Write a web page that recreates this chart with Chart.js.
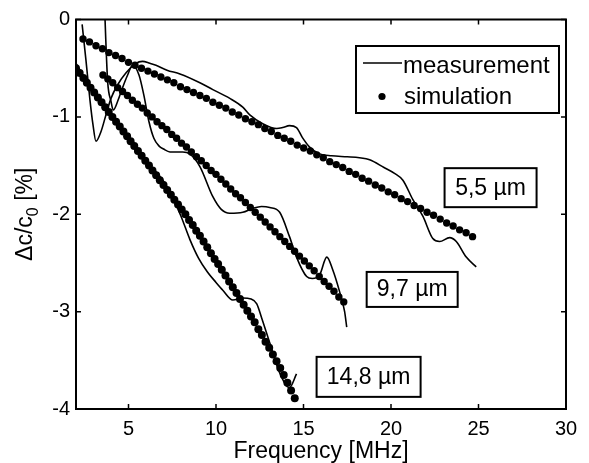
<!DOCTYPE html>
<html>
<head>
<meta charset="utf-8">
<script src="https://cdn.jsdelivr.net/npm/chart.js@4/dist/chart.umd.min.js"></script>
<style>
html,body{margin:0;padding:0;background:#fff;}
canvas{display:block;}
</style>
</head>
<body>
<canvas id="c" width="589" height="463"></canvas>
<script>
// ---------- data ----------
const xTicks = [5, 10, 15, 20, 25, 30];
const yTicks = [0, -1, -2, -3, -4];
const xTitle = "Frequency [MHz]";
const legendLabels = ["measurement", "simulation"];
const thicknessLabels = ["5,5 µm", "9,7 µm", "14,8 µm"];

// simulation 5,5 µm
const sim55X = [2.40,2.77,3.14,3.51,3.88,4.26,4.63,5.00,5.37,5.74,6.11,6.48,6.85,7.22,7.59,7.97,8.34,8.71,9.08,9.45,9.82,10.19,10.56,10.93,11.30,11.68,12.05,12.42,12.79,13.16,13.53,13.90,14.27,14.64,15.01,15.39,15.76,16.13,16.50,16.87,17.24,17.61,17.98,18.35,18.72,19.10,19.47,19.84,20.21,20.58,20.95,21.32,21.69,22.06,22.43,22.81,23.18,23.55,23.92,24.29,24.66];
const sim55Y = [-0.20,-0.23,-0.27,-0.30,-0.34,-0.37,-0.40,-0.44,-0.47,-0.50,-0.53,-0.56,-0.59,-0.62,-0.65,-0.69,-0.72,-0.75,-0.78,-0.81,-0.85,-0.88,-0.91,-0.95,-0.98,-1.02,-1.05,-1.08,-1.12,-1.15,-1.19,-1.22,-1.25,-1.29,-1.32,-1.35,-1.39,-1.42,-1.46,-1.49,-1.52,-1.56,-1.59,-1.63,-1.66,-1.70,-1.73,-1.77,-1.80,-1.84,-1.87,-1.91,-1.94,-1.98,-2.01,-2.05,-2.09,-2.12,-2.16,-2.19,-2.23];
// simulation 9,7 µm
const sim97X = [3.54,3.82,4.10,4.38,4.66,4.94,5.22,5.51,5.79,6.07,6.35,6.63,6.91,7.19,7.47,7.75,8.03,8.31,8.59,8.88,9.16,9.44,9.72,10.00,10.28,10.56,10.84,11.12,11.40,11.68,11.96,12.24,12.53,12.81,13.09,13.37,13.65,13.93,14.21,14.49,14.77,15.05,15.33,15.61,15.90,16.18,16.46,16.74,17.02,17.30];
const sim97Y = [-0.57,-0.61,-0.65,-0.70,-0.74,-0.78,-0.83,-0.87,-0.91,-0.96,-1.00,-1.05,-1.09,-1.13,-1.18,-1.22,-1.27,-1.31,-1.36,-1.41,-1.45,-1.50,-1.55,-1.59,-1.64,-1.69,-1.74,-1.79,-1.83,-1.88,-1.93,-1.98,-2.03,-2.08,-2.13,-2.18,-2.23,-2.28,-2.33,-2.38,-2.43,-2.48,-2.53,-2.58,-2.64,-2.69,-2.74,-2.79,-2.85,-2.90];
// simulation 14,8 µm
const sim148X = [2.00,2.21,2.42,2.62,2.83,3.04,3.25,3.46,3.67,3.87,4.08,4.29,4.50,4.71,4.92,5.12,5.33,5.54,5.75,5.96,6.17,6.37,6.58,6.79,7.00,7.21,7.42,7.62,7.83,8.04,8.25,8.46,8.67,8.87,9.08,9.29,9.50,9.71,9.92,10.12,10.33,10.54,10.75,10.96,11.17,11.37,11.58,11.79,12.00,12.21,12.42,12.62,12.83,13.04,13.25,13.46,13.67,13.87,14.08,14.29,14.50];
const sim148Y = [-0.50,-0.55,-0.60,-0.65,-0.70,-0.75,-0.80,-0.85,-0.90,-0.95,-1.00,-1.05,-1.10,-1.15,-1.20,-1.25,-1.30,-1.35,-1.40,-1.45,-1.50,-1.55,-1.60,-1.65,-1.70,-1.75,-1.80,-1.85,-1.90,-1.95,-2.00,-2.06,-2.11,-2.17,-2.22,-2.28,-2.34,-2.40,-2.46,-2.51,-2.57,-2.63,-2.69,-2.75,-2.81,-2.87,-2.93,-2.99,-3.05,-3.11,-3.18,-3.24,-3.31,-3.37,-3.44,-3.51,-3.58,-3.65,-3.73,-3.81,-3.89];

// measurement 5,5 µm
const meas55X = [2.35,2.57,2.80,2.97,3.14,3.43,3.71,4.00,4.38,4.85,5.42,5.80,6.22,6.57,7.20,7.94,9.08,9.82,10.79,11.53,11.93,12.67,13.47,13.81,14.20,14.60,14.93,15.35,15.92,16.60,17.50,18.20,18.78,19.60,20.20,20.68,21.25,21.82,22.39,22.78,23.35,23.73,24.30,24.87];
const meas55Y = [-0.05,-0.42,-0.83,-1.08,-1.25,-1.15,-0.98,-0.81,-0.67,-0.55,-0.45,-0.43,-0.45,-0.47,-0.52,-0.56,-0.65,-0.72,-0.81,-0.90,-0.98,-1.07,-1.12,-1.11,-1.09,-1.11,-1.21,-1.31,-1.38,-1.40,-1.41,-1.42,-1.44,-1.52,-1.58,-1.65,-1.85,-2.02,-2.25,-2.28,-2.24,-2.28,-2.44,-2.54];
// measurement 9,7 µm
const meas97X = [3.62,3.70,3.81,4.00,4.13,4.38,4.66,4.95,5.23,5.60,5.88,6.17,6.45,6.75,7.00,7.37,8.10,8.50,9.08,9.82,10.30,10.79,11.53,12.10,12.60,13.07,13.64,14.20,14.60,15.18,15.50,15.93,16.33,16.67,17.07,17.35,17.47];
const meas97Y = [0.20,-0.20,-0.64,-0.84,-0.93,-0.84,-0.70,-0.57,-0.47,-0.57,-0.78,-1.05,-1.22,-1.30,-1.33,-1.36,-1.36,-1.38,-1.51,-1.82,-1.95,-1.99,-1.98,-1.94,-1.92,-1.93,-1.98,-2.23,-2.44,-2.64,-2.66,-2.62,-2.44,-2.57,-2.80,-3.00,-3.16];
// measurement 14,8 µm
const meas148X = [2.00,2.50,3.00,3.50,4.00,4.50,5.00,5.50,6.00,6.50,7.00,7.50,8.00,8.51,9.00,9.50,10.00,10.39,10.96,11.53,12.00,12.33,12.60,13.07,13.64,14.20,14.60];
const meas148Y = [-0.45,-0.60,-0.72,-0.86,-0.98,-1.10,-1.22,-1.34,-1.45,-1.55,-1.66,-1.82,-2.02,-2.26,-2.45,-2.59,-2.70,-2.78,-2.88,-2.86,-2.87,-2.92,-3.06,-3.32,-3.63,-3.78,-3.64];

// ---------- chart ----------
const FONT = "'Liberation Sans', Arial, Helvetica, sans-serif";
const toXY = (xs, ys) => xs.map((x, i) => ({x: x, y: ys[i]}));

const measStyle = {
  showLine: true, pointRadius: 0, borderColor: '#000', borderWidth: 1.6,
  cubicInterpolationMode: 'monotone', fill: false
};
const simStyle = (r) => ({
  showLine: false, pointRadius: r, pointHoverRadius: r,
  pointBackgroundColor: '#000', pointBorderWidth: 0, borderColor: '#000'
});

// label boxes placed in data coordinates (centre), sizes in px
const thicknessAnchors = [
  {x: 25.69, y: -1.727, w: 92, h: 39},
  {x: 21.21, y: -2.772, w: 91, h: 35},
  {x: 18.72, y: -3.670, w: 104, h: 40}
];

const decor = {
  id: 'decor',
  afterDraw(chart) {
    const ctx = chart.ctx;
    const a = chart.chartArea;
    const xs = chart.scales.x, ys = chart.scales.y;
    ctx.save();
    ctx.strokeStyle = '#000';
    ctx.fillStyle = '#000';
    // frame
    ctx.lineWidth = 2;
    ctx.strokeRect(a.left, a.top, a.right - a.left, a.bottom - a.top);
    // inward ticks on all sides
    ctx.lineWidth = 1.5;
    const tl = 5;
    xTicks.forEach(v => {
      const px = xs.getPixelForValue(v);
      ctx.beginPath();
      ctx.moveTo(px, a.bottom); ctx.lineTo(px, a.bottom - tl);
      ctx.moveTo(px, a.top); ctx.lineTo(px, a.top + tl);
      ctx.stroke();
    });
    yTicks.forEach(v => {
      const py = ys.getPixelForValue(v);
      ctx.beginPath();
      ctx.moveTo(a.left, py); ctx.lineTo(a.left + tl, py);
      ctx.moveTo(a.right, py); ctx.lineTo(a.right - tl, py);
      ctx.stroke();
    });
    // y title with subscript
    const mainF = '23px ' + FONT, subF = '16px ' + FONT;
    const parts = [
      {t: 'Δc/c', f: mainF, dy: 0},
      {t: '0', f: subF, dy: 6},
      {t: ' [%]', f: mainF, dy: 0}
    ];
    let total = 0;
    parts.forEach(p => { ctx.font = p.f; p.w = ctx.measureText(p.t).width; total += p.w; });
    ctx.translate(32, (a.top + a.bottom) / 2);
    ctx.rotate(-Math.PI / 2);
    ctx.textBaseline = 'alphabetic';
    ctx.textAlign = 'left';
    let cx = -total / 2;
    parts.forEach(p => { ctx.font = p.f; ctx.fillText(p.t, cx, p.dy); cx += p.w; });
    ctx.setTransform(1, 0, 0, 1, 0, 0);
    // legend
    const lx = a.right - 7 - 203, ly = a.top + 26.5, lw = 203, lh = 67;
    ctx.fillStyle = '#fff';
    ctx.fillRect(lx, ly, lw, lh);
    ctx.fillStyle = '#000';
    ctx.lineWidth = 2;
    ctx.strokeRect(lx, ly, lw, lh);
    ctx.lineWidth = 1.6;
    ctx.beginPath();
    ctx.moveTo(lx + 7, ly + 17); ctx.lineTo(lx + 46, ly + 17);
    ctx.stroke();
    ctx.beginPath();
    ctx.arc(lx + 26, ly + 50.5, 3.6, 0, Math.PI * 2);
    ctx.fill();
    ctx.font = '24px ' + FONT;
    ctx.textBaseline = 'alphabetic';
    ctx.fillText(legendLabels[0], lx + 47, ly + 27);
    ctx.fillText(legendLabels[1], lx + 48, ly + 57.5);
    // thickness boxes
    thicknessAnchors.forEach((b, i) => {
      const cxp = xs.getPixelForValue(b.x), cyp = ys.getPixelForValue(b.y);
      const bx = cxp - b.w / 2, by = cyp - b.h / 2;
      ctx.fillStyle = '#fff';
      ctx.fillRect(bx, by, b.w, b.h);
      ctx.fillStyle = '#000';
      ctx.lineWidth = 2;
      ctx.strokeRect(bx, by, b.w, b.h);
      ctx.font = '23px ' + FONT;
      ctx.textAlign = 'center';
      ctx.fillText(thicknessLabels[i], cxp, by + b.h / 2 + 7);
      ctx.textAlign = 'left';
    });
    ctx.restore();
  }
};

new Chart(document.getElementById('c'), {
  type: 'scatter',
  data: {
    datasets: [
      Object.assign({label: 'measurement 5,5 µm', data: toXY(meas55X, meas55Y)}, measStyle),
      Object.assign({label: 'measurement 9,7 µm', data: toXY(meas97X, meas97Y)}, measStyle),
      Object.assign({label: 'measurement 14,8 µm', data: toXY(meas148X, meas148Y)}, measStyle),
      Object.assign({label: 'simulation 5,5 µm', data: toXY(sim55X, sim55Y)}, simStyle(3.7)),
      Object.assign({label: 'simulation 9,7 µm', data: toXY(sim97X, sim97Y)}, simStyle(3.7)),
      Object.assign({label: 'simulation 14,8 µm', data: toXY(sim148X, sim148Y)}, simStyle(4.0))
    ]
  },
  options: {
    responsive: false,
    animation: false,
    devicePixelRatio: 1,
    layout: {padding: {left: 0, top: 19.5, right: 23, bottom: 0}},
    plugins: {legend: {display: false}, tooltip: {enabled: false}},
    scales: {
      x: {
        type: 'linear', min: 2, max: 30,
        afterBuildTicks: s => { s.ticks = xTicks.map(v => ({value: v})); },
        afterFit: s => { s.height = 54; },
        grid: {display: false, drawTicks: false},
        border: {display: false},
        ticks: {color: '#000', font: {size: 20, family: FONT}, padding: 8, maxRotation: 0, autoSkip: false},
        title: {display: true, text: xTitle, color: '#000', font: {size: 23, family: FONT, lineHeight: 1}, padding: {top: 0, bottom: 0}}
      },
      y: {
        type: 'linear', min: -4, max: 0,
        afterBuildTicks: s => { s.ticks = yTicks.map(v => ({value: v})); },
        afterFit: s => { s.width = 76; },
        grid: {display: false, drawTicks: false},
        border: {display: false},
        ticks: {color: '#000', font: {size: 20, family: FONT}, padding: 6, autoSkip: false}
      }
    }
  },
  plugins: [decor]
});
</script>
</body>
</html>
